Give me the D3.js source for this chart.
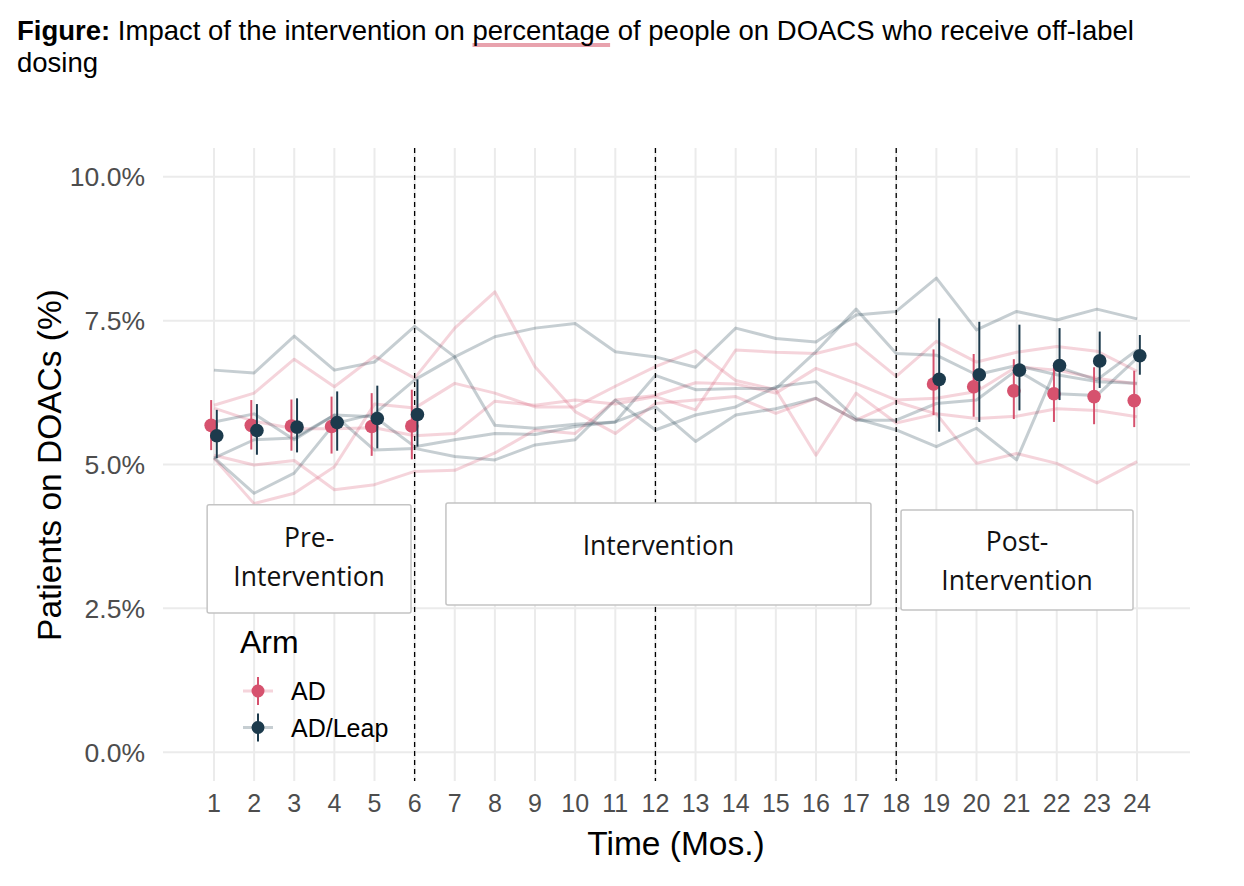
<!DOCTYPE html>
<html><head><meta charset="utf-8">
<script src="https://cdn.jsdelivr.net/npm/d3@7"></script>
<style>body{margin:0;background:#fff;} svg{display:block}</style>
</head><body>
<svg id="c" width="1244" height="886"></svg>
<script>
// ---------- data ----------
const months = d3.range(1, 25);
const xTicks = d3.range(1, 25);
const yTicks = [0, 2.5, 5, 7.5, 10];
const arms = ["AD", "AD/Leap"];
const armColors = ["#d6526e", "#1c3a4c"];
const phaseLines = [6, 12, 18];

// summary months (pre and post periods)
const summaryMonths = [1, 2, 3, 4, 5, 6, 19, 20, 21, 22, 23, 24];
const adMean  = [5.68, 5.68, 5.67, 5.66, 5.66, 5.67, 6.40, 6.35, 6.28, 6.23, 6.18, 6.11];
const adLow   = [5.25, 5.26, 5.24, 5.19, 5.15, 5.09, 5.86, 5.83, 5.79, 5.74, 5.70, 5.65];
const adHigh  = [6.12, 6.12, 6.13, 6.18, 6.24, 6.30, 7.00, 6.92, 6.83, 6.76, 6.69, 6.63];
const leapMean = [5.50, 5.59, 5.65, 5.73, 5.80, 5.87, 6.48, 6.56, 6.64, 6.72, 6.80, 6.89];
const leapLow  = [5.11, 5.17, 5.21, 5.24, 5.28, 5.31, 5.57, 5.74, 5.94, 6.12, 6.33, 6.56];
const leapHigh = [5.95, 6.05, 6.15, 6.27, 6.37, 6.48, 7.54, 7.48, 7.43, 7.37, 7.31, 7.25];

// individual site trajectories (percent), months 1..24
const adSite1 = [6.03, 6.24, 6.83, 6.35, 6.88, 6.50, 7.37, 8.00, 6.70, 5.92, 5.54, 6.06, 6.12, 6.18, 5.89, 6.15, 5.77, 6.09, 5.88, 5.80, 5.84, 5.97, 5.94, 5.83];
const adSite2 = [5.11, 4.32, 4.50, 4.96, 6.05, 5.98, 6.41, 6.24, 6.00, 6.00, 6.36, 6.70, 6.98, 6.46, 6.30, 5.16, 6.24, 5.72, 5.88, 5.02, 5.19, 5.02, 4.68, 5.05];
const adSite3 = [5.98, 5.75, 5.62, 5.62, 5.64, 5.50, 5.54, 6.10, 6.03, 6.12, 6.05, 6.18, 5.95, 6.99, 6.95, 6.93, 7.10, 6.53, 7.14, 6.78, 6.95, 7.05, 6.97, 6.62];
const adSite4 = [5.16, 4.99, 5.07, 4.56, 4.65, 4.88, 4.90, 5.20, 5.60, 5.54, 6.12, 6.20, 6.42, 6.40, 6.24, 6.67, 6.41, 6.12, 6.15, 6.27, 6.70, 6.64, 6.50, 6.40];
const leapSite1 = [6.64, 6.59, 7.23, 6.64, 6.78, 7.40, 6.87, 5.68, 5.63, 5.70, 5.74, 6.55, 6.30, 6.32, 6.32, 6.96, 7.70, 6.93, 6.90, 6.56, 6.72, 6.56, 6.44, 6.41];
const leapSite2 = [5.12, 4.50, 4.85, 5.71, 5.88, 6.47, 6.87, 7.22, 7.37, 7.45, 6.96, 6.87, 6.69, 7.37, 7.19, 7.13, 7.60, 7.66, 8.24, 7.34, 7.66, 7.51, 7.70, 7.53];
const leapSite3 = [5.74, 5.88, 5.43, 5.86, 5.25, 5.28, 5.14, 5.08, 5.34, 5.43, 6.12, 5.60, 5.86, 6.00, 6.35, 6.44, 5.80, 5.60, 5.31, 5.63, 5.08, 6.70, 6.47, 6.99];
const leapSite4 = [5.11, 5.43, 5.46, 5.86, 5.83, 5.31, 5.43, 5.54, 5.52, 5.66, 5.74, 6.00, 5.40, 5.86, 5.97, 6.15, 5.77, 5.77, 6.06, 6.12, 6.64, 6.23, 6.20, 6.85];

// phase annotation boxes (data units)
const phaseNames = [["Pre-", "Intervention"], ["Intervention"], ["Post-", "Intervention"]];
const phaseX0 = [0.83, 6.78, 18.12];
const phaseX1 = [5.91, 17.37, 23.90];
const phaseYTop = [4.30, 4.33, 4.21];
const phaseYBot = [2.42, 2.56, 2.47];
const phaseTextY = [3.40, 3.60, 3.33];

// ---------- drawing ----------
const svg = d3.select("#c");
const W = 1244, H = 886;
const panel = {left: 163, right: 1190, top: 148, bottom: 781};
const x = d3.scaleLinear().domain([-0.27, 25.32]).range([panel.left, panel.right]);
const y = d3.scaleLinear().domain([-0.5, 10.5]).range([panel.bottom, panel.top]);
const FONT = "'Liberation Sans', Arial, Helvetica, sans-serif";

svg.append("rect").attr("width", W).attr("height", H).attr("fill", "#fff");

// grid
const grid = svg.append("g");
grid.selectAll("line.h").data(yTicks).join("line")
  .attr("x1", panel.left).attr("x2", panel.right)
  .attr("y1", d => y(d)).attr("y2", d => y(d))
  .attr("stroke", "#ebebeb").attr("stroke-width", 2);
grid.selectAll("line.v").data(xTicks).join("line")
  .attr("x1", d => x(d)).attr("x2", d => x(d))
  .attr("y1", panel.top).attr("y2", panel.bottom)
  .attr("stroke", "#ebebeb").attr("stroke-width", 2);

// site lines
const line = d3.line().x((d, i) => x(months[i])).y(d => y(d));
const siteData = [
  {arm: 0, v: adSite1}, {arm: 0, v: adSite2}, {arm: 0, v: adSite3}, {arm: 0, v: adSite4},
  {arm: 1, v: leapSite1}, {arm: 1, v: leapSite2}, {arm: 1, v: leapSite3}, {arm: 1, v: leapSite4}
];
svg.append("g").selectAll("path").data(siteData).join("path")
  .attr("d", d => line(d.v))
  .attr("fill", "none")
  .attr("stroke", d => armColors[d.arm])
  .attr("stroke-opacity", 0.25)
  .attr("stroke-width", 3)
  .attr("stroke-linejoin", "round");

// phase dashed lines
svg.append("g").selectAll("line").data(phaseLines).join("line")
  .attr("x1", d => x(d)).attr("x2", d => x(d))
  .attr("y1", panel.top).attr("y2", panel.bottom)
  .attr("stroke", "#000").attr("stroke-width", 1.3)
  .attr("stroke-dasharray", "5,4");

// phase boxes
const boxes = svg.append("g");
phaseNames.forEach((lines, i) => {
  const x0 = x(phaseX0[i]), x1 = x(phaseX1[i]);
  const yt = y(phaseYTop[i]), yb = y(phaseYBot[i]);
  boxes.append("rect").attr("x", x0).attr("y", yt).attr("width", x1 - x0).attr("height", yb - yt)
    .attr("fill", "#fff").attr("stroke", "#c4c4c4").attr("stroke-width", 1.5).attr("rx", 2);
  const cx = (x0 + x1) / 2, cy = y(phaseTextY[i]);
  const lh = 39;
  lines.forEach((t, j) => {
    boxes.append("text").attr("x", cx)
      .attr("y", cy + (j - (lines.length - 1) / 2) * lh)
      .attr("dy", "0.36em")
      .attr("text-anchor", "middle")
      .style("font-family", "'Open Sans', 'Noto Sans', sans-serif")
      .style("font-size", "26.5px").attr("fill", "#111")
      .text(t);
  });
});

// error bars + points
const dodge = [-0.07, 0.07];
const summary = [
  {arm: 0, mean: adMean, lo: adLow, hi: adHigh},
  {arm: 1, mean: leapMean, lo: leapLow, hi: leapHigh}
];
summary.forEach(s => {
  const g = svg.append("g");
  const pts = summaryMonths.map((m, i) => ({m, mean: s.mean[i], lo: s.lo[i], hi: s.hi[i]}));
  g.selectAll("line").data(pts).join("line")
    .attr("x1", d => x(d.m + dodge[s.arm])).attr("x2", d => x(d.m + dodge[s.arm]))
    .attr("y1", d => y(d.lo)).attr("y2", d => y(d.hi))
    .attr("stroke", armColors[s.arm]).attr("stroke-width", 2);
  g.selectAll("circle").data(pts).join("circle")
    .attr("cx", d => x(d.m + dodge[s.arm])).attr("cy", d => y(d.mean))
    .attr("r", 6.8).attr("fill", armColors[s.arm]);
});

// axes labels
svg.append("g").selectAll("text").data(yTicks).join("text")
  .attr("x", 145).attr("y", d => y(d)).attr("dy", "0.36em")
  .attr("text-anchor", "end").attr("fill", "#4d4d4d")
  .style("font-family", FONT).style("font-size", "26.5px")
  .text(d => d3.format(".1f")(d) + "%");
svg.append("g").selectAll("text").data(xTicks).join("text")
  .attr("x", d => x(d)).attr("y", 812)
  .attr("text-anchor", "middle").attr("fill", "#4d4d4d")
  .style("font-family", FONT).style("font-size", "25px")
  .text(d => d);

svg.append("text").attr("x", 676).attr("y", 855).attr("text-anchor", "middle")
  .style("font-family", FONT).style("font-size", "33.5px").attr("fill", "#000")
  .text("Time (Mos.)");
svg.append("text").attr("transform", "translate(61,465) rotate(-90)").attr("text-anchor", "middle")
  .style("font-family", FONT).style("font-size", "33.5px").attr("fill", "#000")
  .text("Patients on DOACs (%)");

// legend
const lg = svg.append("g");
lg.append("text").attr("x", 240).attr("y", 653).style("font-family", FONT).style("font-size", "32px")
  .attr("fill", "#000").text("Arm");
arms.forEach((a, i) => {
  const cy = 691 + i * 36.5;
  lg.append("line").attr("x1", 243).attr("x2", 273).attr("y1", cy).attr("y2", cy)
    .attr("stroke", armColors[i]).attr("stroke-opacity", 0.25).attr("stroke-width", 3);
  lg.append("line").attr("x1", 258).attr("x2", 258).attr("y1", cy - 14).attr("y2", cy + 14)
    .attr("stroke", armColors[i]).attr("stroke-width", 2);
  lg.append("circle").attr("cx", 258).attr("cy", cy).attr("r", 6.5).attr("fill", armColors[i]);
  lg.append("text").attr("x", 291).attr("y", cy).attr("dy", "0.36em")
    .style("font-family", FONT).style("font-size", "25px").attr("fill", "#000").text(a);
});

// title
const underline = svg.append("line");
const title = svg.append("text").attr("x", 17).attr("y", 40)
  .style("font-family", FONT).style("font-size", "27.5px").attr("fill", "#000");
const parts = ["Figure:", " Impact of the intervention on ", "percentage", " of people on DOACS who receive off-label"];
title.append("tspan").style("font-weight", "bold").text(parts[0]);
title.append("tspan").text(parts[1]);
title.append("tspan").text(parts[2]);
title.append("tspan").text(parts[3]);
svg.append("text").attr("x", 17).attr("y", 72)
  .style("font-family", FONT).style("font-size", "27.5px").attr("fill", "#000").text("dosing");
const tn = title.node();
const idx = (parts[0] + parts[1]).length;
const sx = tn.getStartPositionOfChar(idx).x;
const ex = tn.getEndPositionOfChar(idx + parts[2].length - 1).x;
underline.attr("x1", sx).attr("x2", ex).attr("y1", 45).attr("y2", 45)
  .attr("stroke", "#e8a2ad").attr("stroke-width", 4);
</script>
</body></html>
